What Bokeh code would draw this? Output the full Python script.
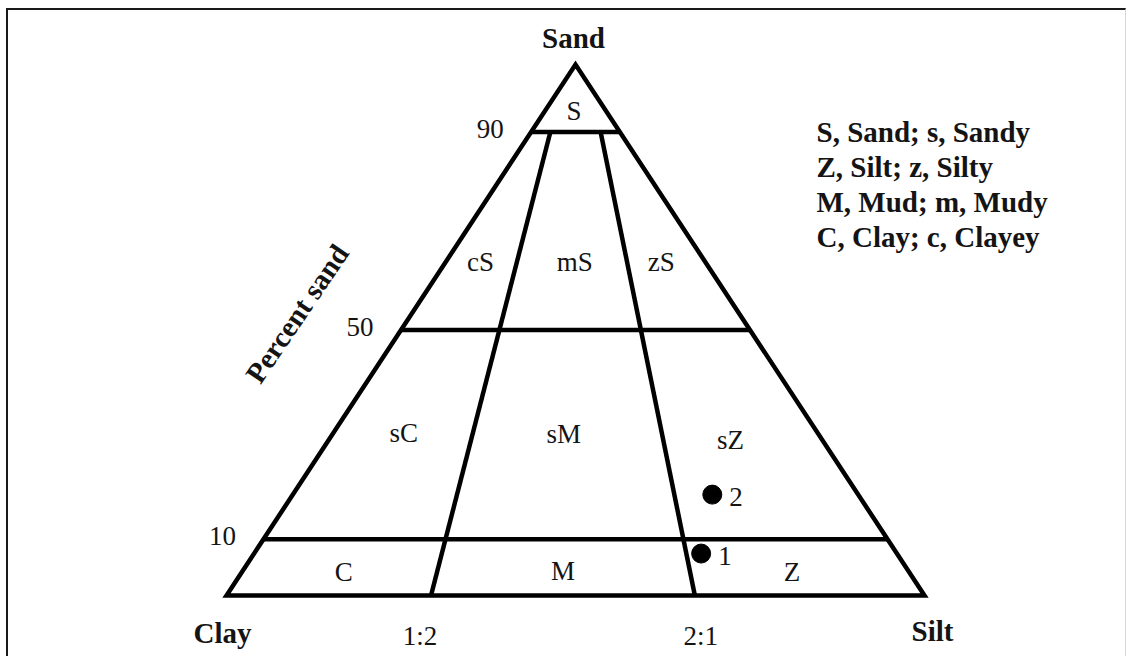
from bokeh.plotting import figure
from bokeh.models import ColumnDataSource, Range1d, Label
from bokeh.core.properties import value
from bokeh.embed import file_html
from bokeh.resources import INLINE

# ---------------- data ----------------
# triangle corners: x = position along the Clay-Silt base (%), y = percent sand
corner_names = ["Clay", "Silt", "Sand"]
corner_x = [0.0, 100.0, 50.0]
corner_y = [0.0, 0.0, 100.0]

# sand class limits (labels) and the level at which each is drawn in the diagram
sand_limit_labels = ["90", "50", "10"]
sand_limit_levels = [87.3, 50.0, 10.6]

# silt:clay ratio dividers (base position and position on the 90 % line)
ratio_labels = ["1:2", "2:1"]
ratio_base_x = [29.3, 67.1]
ratio_top_x = [46.4, 53.6]

# textural classes
class_names = ["S", "cS", "mS", "zS", "sC", "sM", "sZ", "C", "M", "Z"]
class_x = [49.8, 36.4, 49.9, 62.3, 25.4, 48.3, 72.2, 16.8, 48.2, 81.0]
class_y = [91.3, 62.8, 62.8, 62.8, 30.6, 30.5, 29.3, 4.5, 4.7, 4.4]

# samples
sample_ids = ["1", "2"]
sample_x = [68.0, 69.6]
sample_y = [7.9, 19.0]

legend_lines = ["S, Sand; s, Sandy", "Z, Silt; z, Silty",
                "M, Mud; m, Mudy", "C, Clay; c, Clayey"]

# ---------------- layout ----------------
W, H = 1120, 648
L, T = 8, 10                  # page position of the canvas
PX0, PX100 = 226.0, 924.0     # page x of base 0 and 100
PY0, PY100 = 595.0, 64.0      # page y of sand 0 and 100
sx = (PX100 - PX0) / 100.0
sy = (PY0 - PY100) / 100.0

x_range = Range1d((L - PX0) / sx, (L + W - PX0) / sx)
y_range = Range1d((PY0 - (T + H)) / sy, (PY0 - T) / sy)

SERIF = value("Liberation Serif")
INK = "#141414"
BOLD_SIZE = "29px"
REG_SIZE = "27px"

p = figure(width=W, height=H, x_range=x_range, y_range=y_range,
           output_backend="svg", toolbar_location=None,
           min_border=0, outline_line_color=None,
           background_fill_color="white", border_fill_color="white",
           styles={"margin-left": "6px", "margin-top": "8px",
                   "border-left": "2px solid #1a1a1a",
                   "border-top": "2px solid #1a1a1a",
                   "border-right": "1px solid #d6d6d6"})
p.xaxis.visible = False
p.yaxis.visible = False
p.grid.visible = False

LW = 4.5

# triangle outline
p.patch(corner_x, corner_y, fill_color=None, line_color="black",
        line_width=LW, line_join="miter")

# sand limit lines across the triangle
apex_x, apex_y = corner_x[2], corner_y[2]
def left_edge(y):
    return corner_x[0] + (apex_x - corner_x[0]) * (y - corner_y[0]) / (apex_y - corner_y[0])
def right_edge(y):
    return corner_x[1] + (apex_x - corner_x[1]) * (y - corner_y[1]) / (apex_y - corner_y[1])

hx = [[left_edge(v), right_edge(v)] for v in sand_limit_levels]
hy = [[v, v] for v in sand_limit_levels]
p.multi_line(hx, hy, line_color="black", line_width=LW)

# ratio dividers from base to the 90 % line
top_level = sand_limit_levels[0]
dx = [[b, t] for b, t in zip(ratio_base_x, ratio_top_x)]
dy = [[0.0, top_level] for _ in ratio_base_x]
p.multi_line(dx, dy, line_color="black", line_width=LW)

# class labels
p.text(x=class_x, y=class_y, text=class_names, text_font=SERIF,
       text_font_size=REG_SIZE, text_color=INK, text_align="center",
       text_baseline="middle")

# corner names
corner_src = ColumnDataSource(dict(x=corner_x, y=corner_y, t=corner_names,
                                   xo=[-4, 8, -2], yo=[37, 35, -27]))
p.text(x="x", y="y", text="t", x_offset="xo", y_offset="yo", source=corner_src,
       text_font=SERIF, text_font_style="bold", text_font_size=BOLD_SIZE,
       text_color=INK, text_align="center", text_baseline="middle")

# ratio labels under the base
ratio_src = ColumnDataSource(dict(x=ratio_base_x, y=[0.0] * len(ratio_base_x),
                                  t=ratio_labels, xo=[-11, 6], yo=[40, 40]))
p.text(x="x", y="y", text="t", x_offset="xo", y_offset="yo", source=ratio_src,
       text_font=SERIF, text_font_size=REG_SIZE, text_color=INK,
       text_align="center", text_baseline="middle")

# sand limit labels left of the triangle
lim_src = ColumnDataSource(dict(x=[left_edge(v) for v in sand_limit_levels],
                                y=sand_limit_levels, t=sand_limit_labels))
p.text(x="x", y="y", text="t", x_offset=-41, y_offset=-3, source=lim_src,
       text_font=SERIF, text_font_size=REG_SIZE, text_color=INK,
       text_align="center", text_baseline="middle")

# axis title
p.add_layout(Label(x=10.1, y=53.1, text="Percent sand", angle=0.975,
                   text_font="Liberation Serif", text_font_style="bold",
                   text_font_size=BOLD_SIZE, text_color=INK,
                   text_align="center", text_baseline="middle"))

# samples
p.scatter(sample_x, sample_y, size=19, marker="circle",
          fill_color="black", line_color="black")
p.text(x=sample_x, y=sample_y, text=sample_ids, x_offset=17, y_offset=2,
       text_font=SERIF, text_font_size=REG_SIZE, text_color=INK,
       text_align="left", text_baseline="middle")

# legend
leg_x = (816 - PX0) / sx
leg_y0 = (PY0 - 131.7) / sy
leg_step = 35.0 / sy
p.text(x=[leg_x] * len(legend_lines),
       y=[leg_y0 - i * leg_step for i in range(len(legend_lines))],
       text=legend_lines, text_font=SERIF, text_font_style="bold",
       text_font_size=BOLD_SIZE, text_color=INK, text_align="left",
       text_baseline="middle")

open("out.html", "w").write(file_html(p, INLINE))
